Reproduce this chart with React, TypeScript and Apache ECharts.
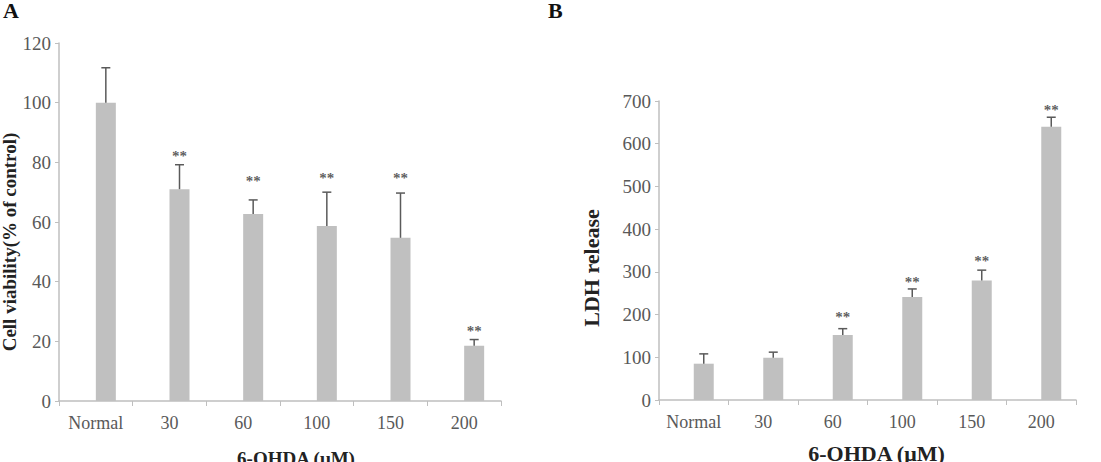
import React, { useEffect, useRef } from "react";
import * as echarts from "echarts";

// Treatment groups (6-OHDA concentration, µM)
const categories = ["Normal", "30", "60", "100", "150", "200"];

// Panel A: cell viability (% of control), mean and upper error limit
const viability = [100, 71, 62.7, 58.7, 54.7, 18.5];
const viabilityErr = [111.7, 79.2, 67.4, 70.0, 69.7, 20.6];
// height at which the significance marks sit ('-' = none)
const viabilityStars: (number | string)[] = ["-", 83, 74.8, 75.8, 75.8, 24.5];

// Panel B: LDH release, mean and upper error limit
const ldh = [85, 99, 152, 241, 280, 640];
const ldhErr = [108, 112, 167, 260, 304, 662];
const ldhStars: (number | string)[] = ["-", "-", 202, 284, 333, 687];

const FONT = "'Liberation Serif', 'Times New Roman', serif";
const BAR = "#c0c0c0";
const AXIS = "#bfbfbf";
const LABEL = "#595959";
const ERR = "#5a5a5a";
const BAR_W = 20;
const OFFSET = BAR_W / 2;

function errorSeries(idx: number, means: number[], tops: number[]) {
  return {
    type: "custom",
    xAxisIndex: idx,
    yAxisIndex: idx,
    silent: true,
    z: 3,
    data: means.map((m, i) => [i, m, tops[i]]),
    renderItem: (params: any, api: any) => {
      const base = api.coord([api.value(0), api.value(1)]);
      const top = api.coord([api.value(0), api.value(2)]);
      const x = base[0] + OFFSET;
      const style = { stroke: ERR, lineWidth: 1.5 };
      return {
        type: "group",
        children: [
          { type: "line", shape: { x1: x, y1: base[1], x2: x, y2: top[1] }, style },
          { type: "line", shape: { x1: x - 4.5, y1: top[1], x2: x + 4.5, y2: top[1] }, style },
        ],
      };
    },
  };
}

function starSeries(idx: number, stars: (number | string)[]) {
  return {
    type: "scatter",
    xAxisIndex: idx,
    yAxisIndex: idx,
    silent: true,
    symbolSize: 0,
    data: stars,
    label: {
      show: true,
      position: "inside",
      offset: [OFFSET, 3],
      formatter: "**",
      fontFamily: FONT,
      fontSize: 15,
      fontWeight: "bold",
      color: "#333",
    },
  };
}

function barPair(idx: number, values: number[]) {
  return [
    {
      type: "bar",
      xAxisIndex: idx,
      yAxisIndex: idx,
      barWidth: BAR_W,
      barGap: "0%",
      silent: true,
      itemStyle: { color: "transparent" },
      data: values.map(() => 0),
    },
    {
      type: "bar",
      xAxisIndex: idx,
      yAxisIndex: idx,
      barWidth: BAR_W,
      barGap: "0%",
      itemStyle: { color: BAR },
      data: values,
    },
  ];
}

function xAxisCfg(idx: number, nameSize: number, nameGap: number, shift: number) {
  return {
    type: "category",
    gridIndex: idx,
    data: categories,
    name: "6-OHDA (μM)",
    nameLocation: "middle",
    nameGap,
    nameTextStyle: {
      fontFamily: FONT,
      fontSize: nameSize,
      fontWeight: "bold",
      color: "#222",
      padding: [0, 0, 0, shift * 2],
    },
    axisLine: { lineStyle: { color: AXIS, width: 1.5 } },
    axisTick: { show: true, length: 5, lineStyle: { color: AXIS } },
    axisLabel: { interval: 0, fontFamily: FONT, fontSize: 18, color: LABEL, margin: 13 },
    splitLine: { show: false },
  };
}

function yAxisCfg(idx: number, max: number, interval: number) {
  return {
    type: "value",
    gridIndex: idx,
    min: 0,
    max,
    interval,
    axisLine: { show: true, lineStyle: { color: AXIS, width: 1.5 } },
    axisTick: { show: true, length: 4, lineStyle: { color: AXIS } },
    axisLabel: { fontFamily: FONT, fontSize: 19, color: LABEL, margin: 8 },
    splitLine: { show: false },
  };
}

function yTitle(text: string, x: number, y: number, size: number) {
  return {
    type: "text",
    x,
    y,
    rotation: Math.PI / 2,
    style: {
      text,
      font: `bold ${size}px ${FONT}`,
      fill: "#222",
      align: "center",
      verticalAlign: "middle",
    },
  };
}

export default function App() {
  const ref = useRef<HTMLDivElement>(null);

  useEffect(() => {
    document.body.style.margin = "0";
    const chart = echarts.init(ref.current!, null, { renderer: "svg" });
    chart.setOption({
      animation: false,
      backgroundColor: "#ffffff",
      grid: [
        { left: 59, top: 43, width: 442, height: 358, outerBoundsMode: "none", containLabel: false },
        { left: 659, top: 101, width: 417, height: 299, outerBoundsMode: "none", containLabel: false },
      ],
      xAxis: [xAxisCfg(0, 19, 48, 16), xAxisCfg(1, 22, 42, 9)],
      yAxis: [yAxisCfg(0, 120, 20), yAxisCfg(1, 700, 100)],
      graphic: [
        { type: "text", left: 3, top: -1, style: { text: "A", font: `bold 22px ${FONT}`, fill: "#111" } },
        { type: "text", left: 548, top: -1, style: { text: "B", font: `bold 22px ${FONT}`, fill: "#111" } },
        yTitle("Cell viability(% of control)", 9, 242, 19),
        yTitle("LDH release", 591, 268, 22),
      ],
      series: [
        ...barPair(0, viability),
        errorSeries(0, viability, viabilityErr),
        starSeries(0, viabilityStars),
        ...barPair(1, ldh),
        errorSeries(1, ldh, ldhErr),
        starSeries(1, ldhStars),
      ],
    });
    return () => chart.dispose();
  }, []);

  return <div ref={ref} style={{ width: 1101, height: 462 }} />;
}
